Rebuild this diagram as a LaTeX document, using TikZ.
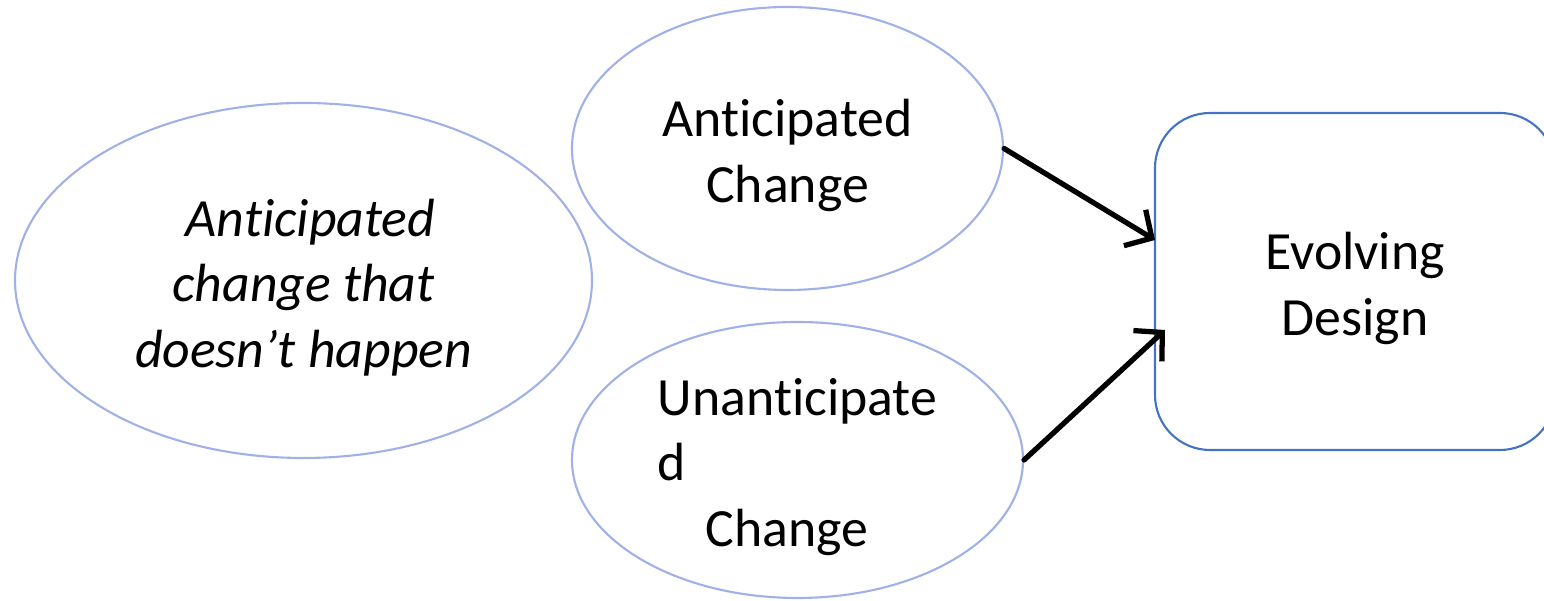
\documentclass[tikz,border=0pt]{standalone}
\usepackage{fontspec}
\setmainfont{Carlito}[Ligatures=NoCommon]
\usepackage{xcolor}
\usetikzlibrary{shapes.geometric,arrows.meta}
\definecolor{ovalColor}{RGB}{160,177,232}
\definecolor{boxColor}{RGB}{68,114,196}

\begin{document}
\begin{tikzpicture}[font=\fontsize{15.3}{18.6}\selectfont]
    \clip (0,0) rectangle (15.44,6.01);
    \useasboundingbox (0,0) rectangle (15.44,6.01);
    \node[ellipse, draw=ovalColor, line width=0.6pt, inner sep=0pt, minimum width=5.77cm, minimum height=3.55cm, align=center, font=\fontsize{15.3}{18.6}\selectfont\itshape] (notHappen) at (3.035,3.205) {\rule{0pt}{0.95em}\hspace*{0.14cm}Anticipated\\change that\\doesn’t happen};
    \node[ellipse, draw=ovalColor, line width=0.6pt, inner sep=0pt, minimum width=4.31cm, minimum height=2.83cm, align=center] (anticipated) at (7.875,4.525) {\rule{0pt}{0.95em}Anticipated\\Change};
    \node[ellipse, draw=ovalColor, line width=0.6pt, inner sep=0pt, minimum width=4.51cm, minimum height=2.76cm, align=left] (unanticipated) at (7.975,1.41) {\rule{0pt}{0.95em}Unanticipate\\d\\\hspace*{0.48cm}Change};
    \node[draw=boxColor, line width=0.6pt, rounded corners=0.55cm, minimum width=4cm, minimum height=3.37cm, align=center] (design) at (13.55,3.195) {\rule{0pt}{0.95em}Evolving\\Design};
    \coordinate (inTop) at (11.55,3.61);
    \coordinate (inBottom) at (11.65,2.71);
    \draw[-{Straight Barb[length=2mm,width=4.2mm]}, line width=1.5pt, line cap=round] (anticipated.east) -- (inTop);
    \draw[-{Straight Barb[length=2mm,width=4.2mm]}, line width=1.5pt, line cap=round] (unanticipated.east) -- (inBottom);
\end{tikzpicture}
\end{document}
